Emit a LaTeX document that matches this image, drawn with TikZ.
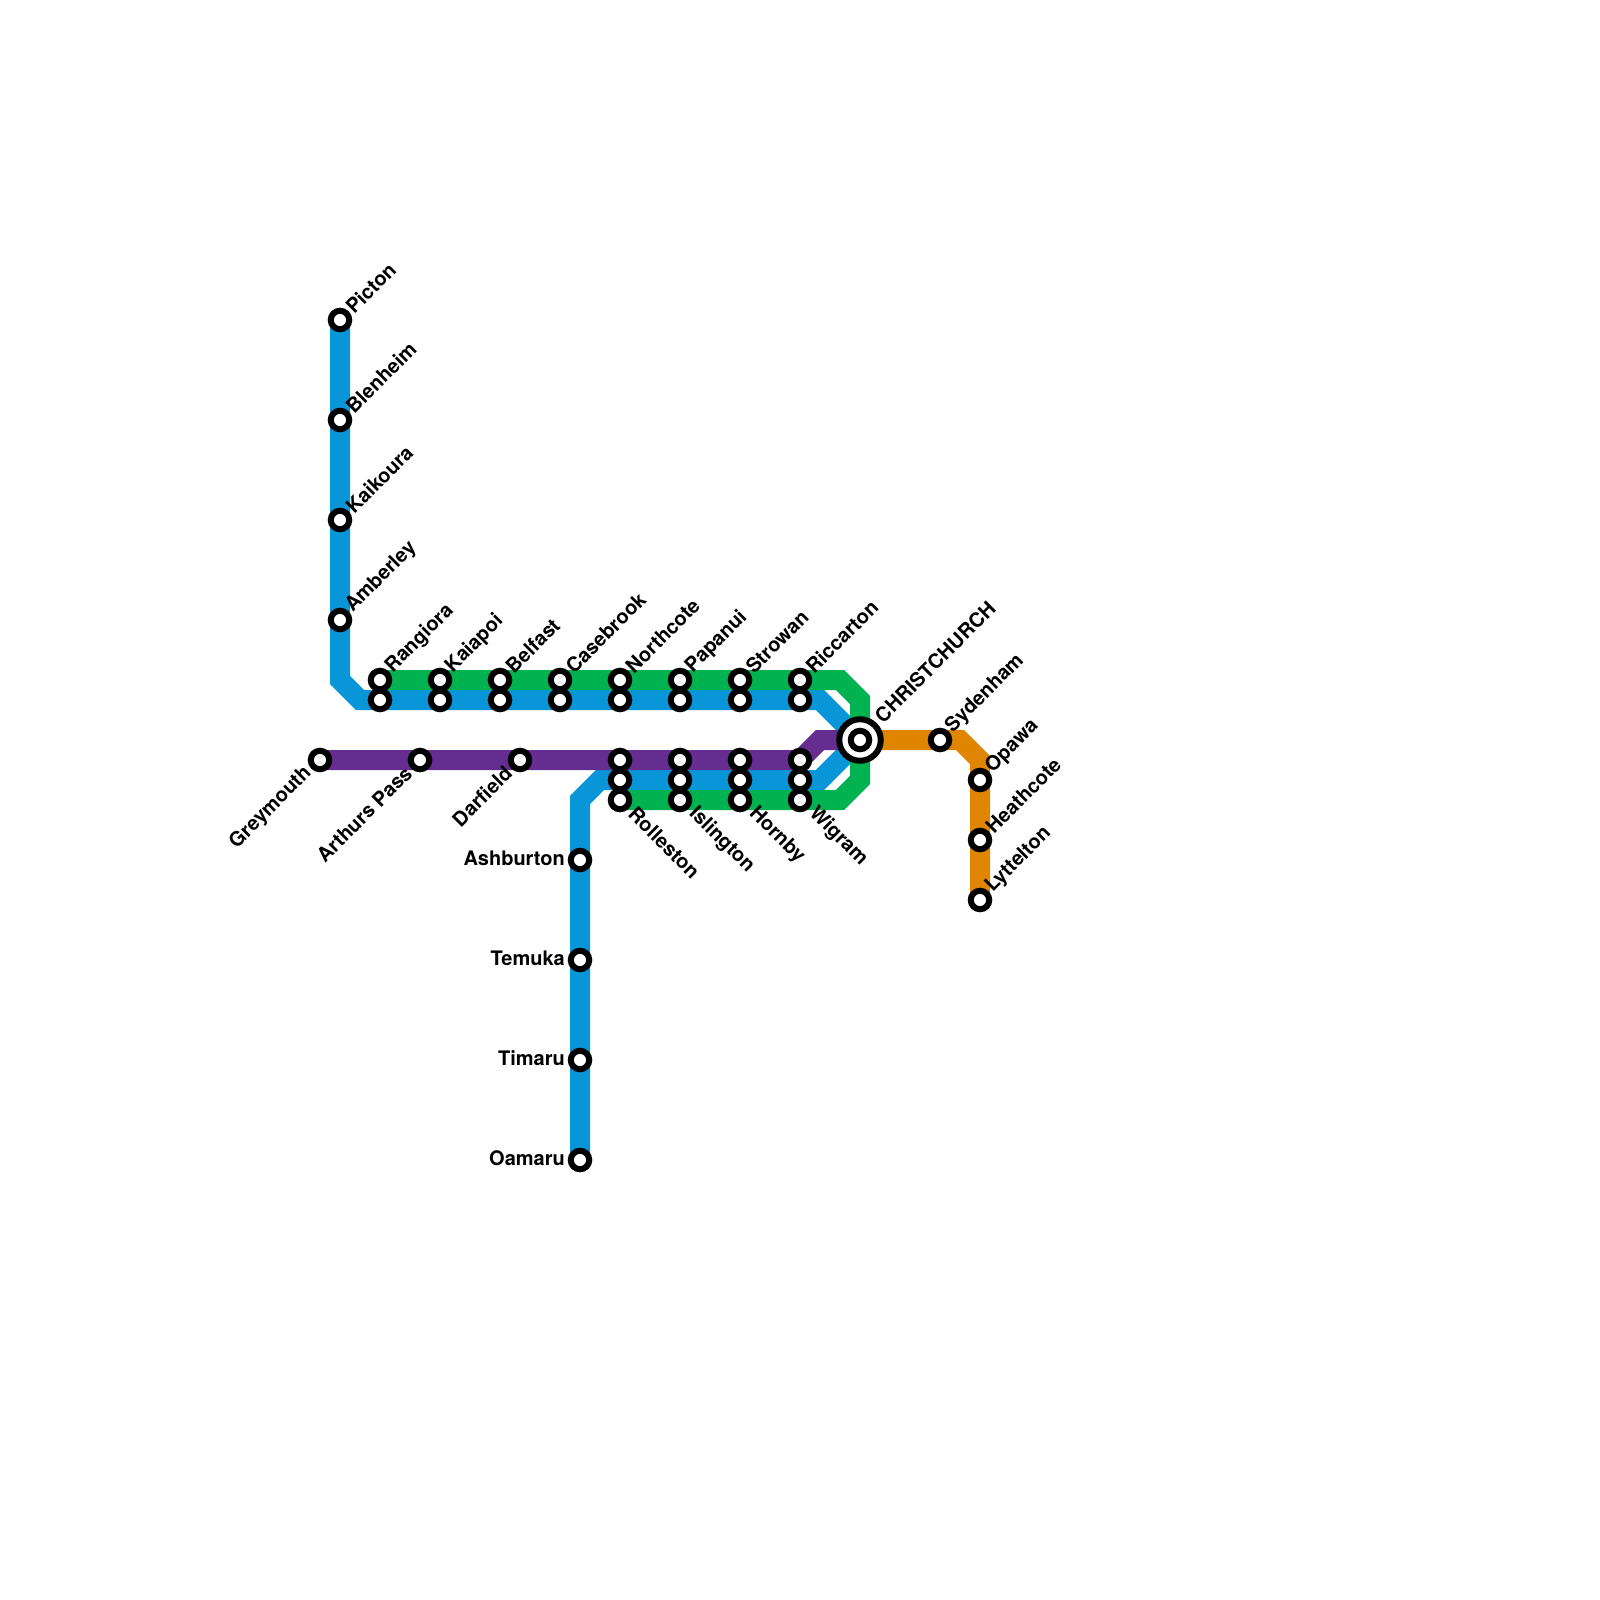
\documentclass[tikz,border=0pt]{standalone}
\usepackage{fontspec}
\setmainfont{TeX Gyre Heros}
\definecolor{lblue}{RGB}{9,150,216}
\definecolor{lgreen}{RGB}{0,178,80}
\definecolor{lpurple}{RGB}{102,45,145}
\definecolor{lorange}{RGB}{223,133,0}
\tikzset{
  metro/.style={line width=20pt,line join=miter,miter limit=10,line cap=butt},
  stn/.style={circle,draw=black,fill=white,line width=6pt,minimum size=18.5pt,inner sep=0pt},
  txt/.style={font=\bfseries\fontsize{20}{22}\selectfont,inner sep=0pt,text=black},
  lblNE/.style={txt,rotate=45,anchor=west},
  lblSE/.style={txt,rotate=-45,anchor=west},
  lblSW/.style={txt,rotate=45,anchor=east},
  lblW/.style={txt,anchor=east},
}
\newcommand{\stlabel}[4]{\node[stn] (#1) at (c#1) {};\node[#2] (t#1) at ([shift={#3}]c#1) {#4};}
\begin{document}
\begin{tikzpicture}[x=1pt,y=-1pt]
\useasboundingbox (0,0) rectangle (1600,1600);
\fill[white] (0,0) rectangle (1600,1600);
\foreach \n/\x/\y in {Picton/340/320,Blenheim/340/420,Kaikoura/340/520,Amberley/340/620,
 Rangiora/380/680,Kaiapoi/440/680,Belfast/500/680,Casebrook/560/680,Northcote/620/680,Papanui/680/680,Strowan/740/680,Riccarton/800/680,
 RangioraB/380/700,KaiapoiB/440/700,BelfastB/500/700,CasebrookB/560/700,NorthcoteB/620/700,PapanuiB/680/700,StrowanB/740/700,RiccartonB/800/700,
 Greymouth/320/760,Arthurs/420/760,Darfield/520/760,
 RollestonP/620/760,IslingtonP/680/760,HornbyP/740/760,WigramP/800/760,
 RollestonB/620/780,IslingtonB/680/780,HornbyB/740/780,WigramB/800/780,
 Rolleston/620/800,Islington/680/800,Hornby/740/800,Wigram/800/800,
 Ashburton/580/860,Temuka/580/960,Timaru/580/1060,Oamaru/580/1160,
 Chch/860/740,Sydenham/940/740,Opawa/980/780,Heathcote/980/840,Lyttelton/980/900,
 k1/340/680,k2/360/700,k3/820/700,k4/840/680,k5/860/700,k6/860/780,k7/840/800,
 k8/820/740,k9/580/800,k10/600/780,k11/820/780,k12/960/740,k13/980/760}
 {\coordinate (c\n) at (\x,\y);}
% lines
\draw[metro,lblue] (cPicton) -- (ck1) -- (ck2) -- (ck3) -- (cChch);
\draw[metro,lblue] (cOamaru) -- (ck9) -- (ck10) -- (ck11) -- (cChch);
\draw[metro,lpurple] (cGreymouth) -- (cWigramP) -- (ck8) -- (cChch);
\draw[metro,lgreen] (cRangiora) -- (ck4) -- (ck5) -- (ck6) -- (ck7) -- (cRolleston);
\draw[metro,lorange] (cChch) -- (ck12) -- (ck13) -- (cLyttelton);
% stations
\foreach \n in {RangioraB,KaiapoiB,BelfastB,CasebrookB,NorthcoteB,PapanuiB,StrowanB,RiccartonB,RollestonP,IslingtonP,HornbyP,WigramP,RollestonB,IslingtonB,HornbyB,WigramB}
 {\node[stn] (\n) at (c\n) {};}
\stlabel{Picton}{lblNE}{(9,-10.5)}{Picton}
\stlabel{Blenheim}{lblNE}{(9,-10.5)}{Blenheim}
\stlabel{Kaikoura}{lblNE}{(9,-10.5)}{Kaikoura}
\stlabel{Amberley}{lblNE}{(9,-10.5)}{Amberley}
\stlabel{Rangiora}{lblNE}{(9,-10.5)}{Rangiora}
\stlabel{Kaiapoi}{lblNE}{(9,-10.5)}{Kaiapoi}
\stlabel{Belfast}{lblNE}{(9,-10.5)}{Belfast}
\stlabel{Casebrook}{lblNE}{(9,-10.5)}{Casebrook}
\stlabel{Northcote}{lblNE}{(9,-10.5)}{Northcote}
\stlabel{Papanui}{lblNE}{(9,-10.5)}{Papanui}
\stlabel{Strowan}{lblNE}{(9,-10.5)}{Strowan}
\stlabel{Riccarton}{lblNE}{(9,-10.5)}{Riccarton}
\stlabel{Sydenham}{lblNE}{(9,-10.5)}{Sydenham}
\stlabel{Opawa}{lblNE}{(9,-10.5)}{Opawa}
\stlabel{Heathcote}{lblNE}{(9,-10.5)}{Heathcote}
\stlabel{Lyttelton}{lblNE}{(9,-10.5)}{Lyttelton}
\stlabel{Greymouth}{lblSW}{(-11.5,10)}{Greymouth}
\stlabel{Arthurs}{lblSW}{(-11.5,10)}{Arthurs Pass}
\stlabel{Darfield}{lblSW}{(-11.5,10)}{Darfield}
\stlabel{Rolleston}{lblSE}{(12,10.5)}{Rolleston}
\stlabel{Islington}{lblSE}{(12,10.5)}{Islington}
\stlabel{Hornby}{lblSE}{(12,10.5)}{Hornby}
\stlabel{Wigram}{lblSE}{(12,10.5)}{Wigram}
\stlabel{Ashburton}{lblW}{(-15,-2)}{Ashburton}
\stlabel{Temuka}{lblW}{(-15,-2)}{Temuka}
\stlabel{Timaru}{lblW}{(-15,-2)}{Timaru}
\stlabel{Oamaru}{lblW}{(-15,-2)}{Oamaru}
% interchange
\node[circle,draw=black,fill=white,line width=6pt,minimum size=41.5pt,inner sep=0pt] (Chch) at (cChch) {};
\node[stn] (ChchIn) at (cChch) {};
\node[lblNE] (tChch) at ([shift={(18,-21)}]cChch) {CHRISTCHURCH};
\end{tikzpicture}
\end{document}
